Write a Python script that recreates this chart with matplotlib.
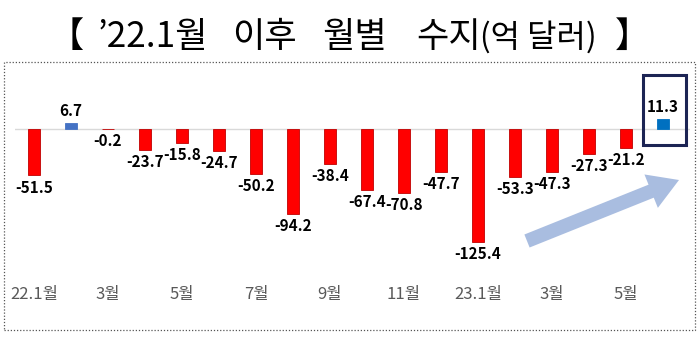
import matplotlib
matplotlib.use("Agg")
import matplotlib.pyplot as plt
import matplotlib.patches as mpatches
from matplotlib.transforms import IdentityTransform
from matplotlib.textpath import TextPath
from matplotlib.font_manager import FontProperties

plt.rcParams['font.family'] = ['Noto Sans CJK KR', 'DejaVu Sans']

months = ["22.1월", "2월", "3월", "4월", "5월", "6월", "7월", "8월", "9월", "10월",
          "11월", "12월", "23.1월", "2월", "3월", "4월", "5월", "6월"]
values = [-51.5, 6.7, -0.2, -23.7, -15.8, -24.7, -50.2, -94.2, -38.4, -67.4,
          -70.8, -47.7, -125.4, -53.3, -47.3, -27.3, -21.2, 11.3]
tick_idx = [0, 2, 4, 6, 8, 10, 12, 14, 16]
tick_labels = ["22.1월", "3월", "5월", "7월", "9월", "11월", "23.1월", "3월", "5월"]
title_words = ["【", "’22.1월", "이후", "월별", "수지", "(억 달러)", "】"]

W, H = 700, 352
fig = plt.figure(figsize=(W / 100, H / 100), dpi=100)

# axes in pixel geometry
left, right, top, bottom = 15, 690, 62, 285
ax = fig.add_axes([left / W, 1 - bottom / H, (right - left) / W, (bottom - top) / H])
zero_px, scale = 129, 0.9
spacing = 37
x0_px = 34
ax.set_xlim(-(x0_px - left) / spacing, (right - x0_px) / spacing)
ax.set_ylim(-(bottom - zero_px) / scale, (zero_px - top) / scale)
for s in ax.spines.values():
    s.set_visible(False)
ax.set_yticks([])
ax.set_xticks(tick_idx)
ax.set_xticklabels(tick_labels, fontsize=12, color='#595959')
ax.tick_params(axis='x', length=0, pad=1)

ax.axhline(0, color='#d9d9d9', lw=1, zorder=1)

n = len(values)
colors = []
for i, v in enumerate(values):
    if i == n - 1:
        colors.append('#0070c0')
    elif v >= 0:
        colors.append('#4472c4')
    else:
        colors.append('#ff0000')
edges = ['#c00000' if v < 0 else c for v, c in zip(values, colors)]
ax.bar(range(n), values, width=0.32, color=colors, edgecolor=edges, lw=0.6, zorder=2)

for i, v in enumerate(values):
    if v >= 0:
        ax.annotate(f"{v:.1f}", (i, v), xytext=(0, 3), textcoords='offset points',
                    ha='center', va='bottom', fontsize=11, fontweight='bold')
    else:
        ax.annotate(f"{v:.1f}", (i, v), xytext=(0, -3), textcoords='offset points',
                    ha='center', va='top', fontsize=11, fontweight='bold')

# highlight box around last point
last = n - 1
box = mpatches.Rectangle((last - 20 / spacing, -16 / scale), 43 / spacing, 70 / scale,
                         fill=False, edgecolor='#1c2454', lw=2.2, zorder=3)
ax.add_patch(box)

# dotted frame
frame = mpatches.Rectangle((4, H - 330), 691, 268, fill=False, edgecolor='#555555',
                           lw=0.9, ls=(0, (1, 1.5)), transform=IdentityTransform())
fig.patches.append(frame)

# trend arrow
tail = (527, H - 241)
tip = (679, H - 180)
arrow = mpatches.FancyArrow(tail[0], tail[1], tip[0] - tail[0], tip[1] - tail[1],
                            width=14, head_width=36, head_length=30,
                            length_includes_head=True, color='#a9bde0', lw=0,
                            transform=IdentityTransform())
fig.patches.append(arrow)

# title: each word placed by its ink extent
fp = FontProperties(family='Noto Sans CJK KR')
px_per_pt = 100 / 72


def ink(s, size_pt):
    ext = TextPath((0, 0), s, size=size_pt * px_per_pt, prop=fp).get_extents()
    return ext.x0, ext.x1


# target ink spans (left px, right px) and sizes
big = 60 / (ink("이후", 1)[1] - ink("이후", 1)[0])
small = 111 / (ink("(억 달러)", 1)[1] - ink("(억 달러)", 1)[0])
spans = [(72, 83), (100, 205), (235, 295), (320, 387), (412, 482), (484, 593), (615, 628)]
sizes = [big, big, big, big, big, small, big]
baseline = H - 47
for word, (xl, xr), fs in zip(title_words, spans, sizes):
    x0, x1 = ink(word, fs)
    cx = (xl + xr) / 2 - (x0 + x1) / 2
    fig.text(cx / W, baseline / H, word, fontsize=fs, ha='left', va='baseline',
             color='black')

fig.savefig("out.png", dpi=100)
